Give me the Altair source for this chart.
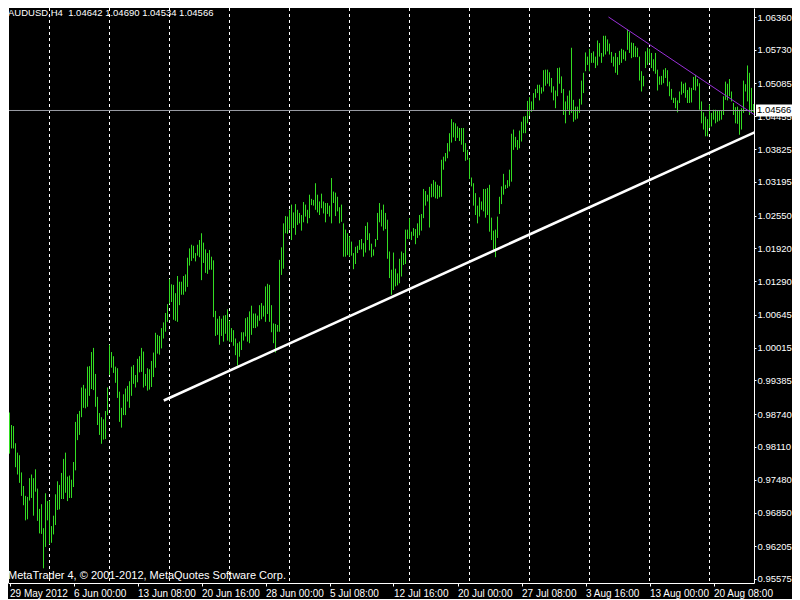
import altair as alt
import pandas as pd

# ---------------- data ----------------
SYMBOL = "AUDUSD,H4"
LAST_OHLC = [1.04642, 1.04690, 1.04534, 1.04566]
COPYRIGHT = "MetaTrader 4, \u00a9 2001-2012, MetaQuotes Software Corp."

HIGH_1 = [0.9877, 0.9853, 0.9851, 0.9818, 0.9800, 0.9795, 0.9762, 0.9736, 0.9717, 0.9715,
          0.9751, 0.9758, 0.9751, 0.9768, 0.9731, 0.9692, 0.9701, 0.9655, 0.9722, 0.9707,
          0.9708, 0.9659, 0.9679, 0.9720, 0.9745, 0.9738, 0.9761, 0.9788, 0.9800, 0.9754,
          0.9756, 0.9748, 0.9782, 0.9859, 0.9874, 0.9880, 0.9925, 0.9930, 0.9923, 0.9965,
          0.9966, 0.9993, 1.0001, 0.9951, 0.9907, 0.9876, 0.9868, 0.9864, 0.9880, 0.9925,
          1.0007, 0.9993, 0.9985, 0.9965, 0.9962, 0.9917, 0.9886, 0.9912, 0.9923, 0.9928,
          0.9937, 0.9965, 0.9968, 0.9949, 0.9980, 0.9985, 1.0001, 0.9994, 0.9951, 0.9962,
          0.9960, 0.9976, 0.9992, 1.0030, 1.0026, 1.0024, 1.0039, 1.0050, 1.0068, 1.0085,
          1.0133, 1.0123, 1.0122, 1.0106, 1.0139, 1.0128, 1.0128, 1.0139, 1.0142, 1.0174,
          1.0192, 1.0199, 1.0197, 1.0183, 1.0199, 1.0208]
LOW_1 = [0.9798, 0.9808, 0.9808, 0.9772, 0.9758, 0.9742, 0.9717, 0.9699, 0.9670, 0.9672,
         0.9708, 0.9713, 0.9679, 0.9725, 0.9669, 0.9645, 0.9644, 0.9578, 0.9619, 0.9670,
         0.9624, 0.9627, 0.9643, 0.9661, 0.9690, 0.9691, 0.9711, 0.9711, 0.9723, 0.9707,
         0.9713, 0.9713, 0.9734, 0.9766, 0.9824, 0.9834, 0.9868, 0.9886, 0.9885, 0.9888,
         0.9909, 0.9922, 0.9920, 0.9888, 0.9853, 0.9834, 0.9817, 0.9825, 0.9826, 0.9872,
         0.9949, 0.9963, 0.9953, 0.9934, 0.9905, 0.9859, 0.9848, 0.9872, 0.9872, 0.9898,
         0.9886, 0.9909, 0.9932, 0.9925, 0.9935, 0.9954, 0.9955, 0.9925, 0.9928, 0.9919,
         0.9921, 0.9926, 0.9945, 0.9963, 0.9990, 0.9988, 1.0000, 1.0019, 1.0032, 1.0051,
         1.0086, 1.0089, 1.0055, 1.0053, 1.0051, 1.0083, 1.0103, 1.0103, 1.0109, 1.0118,
         1.0159, 1.0168, 1.0173, 1.0167, 1.0178, 1.0175]

HIGH_2 = [1.0221, 1.0203, 1.0190, 1.0183, 1.0189, 1.0176, 1.0169, 1.0072, 1.0057, 1.0062,
          1.0057, 1.0063, 1.0064, 1.0075, 1.0053, 1.0039, 1.0035, 1.0019, 1.0010, 1.0013,
          1.0031, 1.0031, 1.0058, 1.0060, 1.0071, 1.0082, 1.0067, 1.0067, 1.0063, 1.0083,
          1.0087, 1.0082, 1.0119, 1.0124, 1.0122, 1.0083, 1.0048, 1.0047, 1.0045, 1.0170,
          1.0194, 1.0240, 1.0254, 1.0253, 1.0266, 1.0276, 1.0261, 1.0277, 1.0266, 1.0260,
          1.0256, 1.0281, 1.0276, 1.0266, 1.0295, 1.0287, 1.0285, 1.0317, 1.0295, 1.0282,
          1.0297, 1.0282, 1.0279, 1.0279, 1.0274, 1.0327, 1.0301, 1.0299, 1.0291, 1.0271,
          1.0276, 1.0240, 1.0228, 1.0221, 1.0215, 1.0205, 1.0183, 1.0195, 1.0197, 1.0208,
          1.0210, 1.0202, 1.0235, 1.0242, 1.0221, 1.0201, 1.0190, 1.0210, 1.0260, 1.0279,
          1.0266, 1.0276, 1.0260, 1.0247, 1.0186]
LOW_2 = [1.0131, 1.0164, 1.0145, 1.0143, 1.0151, 1.0151, 1.0060, 1.0024, 1.0026, 1.0007,
         1.0024, 1.0013, 1.0028, 1.0015, 1.0013, 1.0012, 1.0005, 0.9987, 0.9967, 0.9984,
         0.9997, 1.0015, 1.0023, 1.0013, 1.0010, 1.0026, 1.0039, 1.0039, 1.0042, 1.0053,
         1.0056, 1.0061, 1.0051, 1.0066, 1.0051, 1.0031, 1.0010, 0.9992, 1.0032, 1.0032,
         1.0141, 1.0153, 1.0221, 1.0220, 1.0228, 1.0208, 1.0231, 1.0218, 1.0237, 1.0240,
         1.0226, 1.0242, 1.0253, 1.0240, 1.0250, 1.0275, 1.0274, 1.0266, 1.0261, 1.0256,
         1.0269, 1.0259, 1.0242, 1.0258, 1.0253, 1.0240, 1.0279, 1.0254, 1.0263, 1.0240,
         1.0243, 1.0176, 1.0176, 1.0179, 1.0176, 1.0178, 1.0152, 1.0162, 1.0183, 1.0189,
         1.0190, 1.0176, 1.0184, 1.0208, 1.0188, 1.0175, 1.0178, 1.0195, 1.0208, 1.0242,
         1.0234, 1.0226, 1.0229, 1.0172, 1.0135]

HIGH_3 = [1.0151, 1.0184, 1.0153, 1.0144, 1.0172, 1.0186, 1.0183, 1.0228, 1.0228, 1.0250,
          1.0224, 1.0231, 1.0229, 1.0240, 1.0256, 1.0258, 1.0306, 1.0302, 1.0295, 1.0310,
          1.0316, 1.0323, 1.0320, 1.0314, 1.0312, 1.0362, 1.0368, 1.0375, 1.0394, 1.0413,
          1.0440, 1.0434, 1.0432, 1.0426, 1.0423, 1.0423, 1.0423, 1.0394, 1.0381, 1.0365,
          1.0328, 1.0317, 1.0298, 1.0274, 1.0290, 1.0282, 1.0306, 1.0306, 1.0308, 1.0314,
          1.0251, 1.0226, 1.0228, 1.0253, 1.0291, 1.0311, 1.0335, 1.0314, 1.0323, 1.0343,
          1.0412, 1.0420, 1.0406, 1.0400, 1.0418, 1.0435, 1.0445, 1.0446, 1.0475, 1.0482,
          1.0474, 1.0490, 1.0498, 1.0506, 1.0506, 1.0501, 1.0534, 1.0535, 1.0535, 1.0530,
          1.0519, 1.0503, 1.0495, 1.0538, 1.0539, 1.0522, 1.0498, 1.0474, 1.0485, 1.0495,
          1.0577, 1.0477, 1.0464, 1.0464, 1.0479]
LOW_3 = [1.0103, 1.0112, 1.0119, 1.0121, 1.0125, 1.0138, 1.0160, 1.0162, 1.0210, 1.0210,
         1.0208, 1.0216, 1.0200, 1.0212, 1.0217, 1.0226, 1.0250, 1.0274, 1.0282, 1.0232,
         1.0290, 1.0291, 1.0288, 1.0287, 1.0290, 1.0291, 1.0343, 1.0359, 1.0365, 1.0378,
         1.0395, 1.0405, 1.0398, 1.0404, 1.0398, 1.0391, 1.0377, 1.0360, 1.0362, 1.0325,
         1.0311, 1.0274, 1.0256, 1.0240, 1.0253, 1.0266, 1.0263, 1.0251, 1.0256, 1.0224,
         1.0208, 1.0189, 1.0175, 1.0212, 1.0258, 1.0277, 1.0295, 1.0306, 1.0308, 1.0311,
         1.0320, 1.0381, 1.0386, 1.0381, 1.0384, 1.0397, 1.0413, 1.0413, 1.0432, 1.0446,
         1.0454, 1.0458, 1.0481, 1.0490, 1.0476, 1.0489, 1.0493, 1.0504, 1.0508, 1.0503,
         1.0491, 1.0476, 1.0461, 1.0484, 1.0508, 1.0490, 1.0448, 1.0432, 1.0458, 1.0448,
         1.0452, 1.0435, 1.0439, 1.0441, 1.0452]

HIGH_4 = [1.0514, 1.0529, 1.0568, 1.0560, 1.0575, 1.0567, 1.0570, 1.0560, 1.0591, 1.0586,
          1.0567, 1.0600, 1.0600, 1.0593, 1.0585, 1.0569, 1.0560, 1.0567, 1.0559, 1.0571,
          1.0575, 1.0573, 1.0570, 1.0612, 1.0607, 1.0587, 1.0586, 1.0580, 1.0577, 1.0560,
          1.0532, 1.0523, 1.0570, 1.0577, 1.0575, 1.0567, 1.0555, 1.0567, 1.0535, 1.0522,
          1.0523, 1.0535, 1.0538, 1.0534, 1.0512, 1.0498, 1.0481, 1.0481, 1.0476, 1.0493,
          1.0512, 1.0508, 1.0510, 1.0496, 1.0501, 1.0500, 1.0521, 1.0525, 1.0517, 1.0509,
          1.0474, 1.0453, 1.0445, 1.0440, 1.0468, 1.0452, 1.0458, 1.0458, 1.0457, 1.0457,
          1.0457, 1.0484, 1.0512, 1.0508, 1.0517, 1.0493, 1.0471, 1.0463, 1.0464, 1.0458,
          1.0461, 1.0514, 1.0507, 1.0543, 1.0529, 1.0500, 1.0469]
LOW_4 = [1.0468, 1.0490, 1.0532, 1.0544, 1.0532, 1.0548, 1.0548, 1.0538, 1.0543, 1.0560,
         1.0548, 1.0560, 1.0564, 1.0570, 1.0564, 1.0548, 1.0541, 1.0529, 1.0525, 1.0544,
         1.0548, 1.0555, 1.0552, 1.0573, 1.0567, 1.0557, 1.0559, 1.0559, 1.0559, 1.0514,
         1.0493, 1.0503, 1.0538, 1.0544, 1.0548, 1.0538, 1.0532, 1.0527, 1.0495, 1.0506,
         1.0506, 1.0509, 1.0519, 1.0503, 1.0484, 1.0477, 1.0471, 1.0461, 1.0453, 1.0471,
         1.0487, 1.0490, 1.0481, 1.0471, 1.0471, 1.0472, 1.0496, 1.0495, 1.0503, 1.0458,
         1.0432, 1.0420, 1.0407, 1.0407, 1.0423, 1.0426, 1.0439, 1.0432, 1.0435, 1.0437,
         1.0439, 1.0448, 1.0477, 1.0476, 1.0484, 1.0474, 1.0448, 1.0432, 1.0431, 1.0410,
         1.0420, 1.0452, 1.0493, 1.0474, 1.0448, 1.0452, 1.0453]

TIME_TICK_BARS = [0, 32, 64, 96, 128, 160, 192, 224, 256, 288, 320, 352]
TIME_LABELS = ["29 May 2012", "6 Jun 00:00", "13 Jun 08:00", "20 Jun 16:00",
               "28 Jun 00:00", "5 Jul 08:00", "12 Jul 16:00", "20 Jul 00:00",
               "27 Jul 08:00", "3 Aug 16:00", "13 Aug 00:00", "20 Aug 08:00"]
GRID_BARS = [20, 50, 80, 110, 140, 170, 200, 230, 260, 290, 320, 350]
PRICE_TICKS = [1.06360, 1.05730, 1.05085, 1.04455, 1.03825, 1.03195, 1.02550,
               1.01920, 1.01290, 1.00645, 1.00015, 0.99385, 0.98740, 0.98110,
               0.97480, 0.96850, 0.96205, 0.95575]

SUPPORT_BARS = [77.15, 378.5]
SUPPORT_PRICES = [0.9900, 1.0425]
RESIST_BARS = [299.5, 373.0]
RESIST_PRICES = [1.0636, 1.0447]
BID = [1.04566]

# ---------------- chart ----------------
# total width (W + right padding) is kept at 784 px so the page never shrinks the svg
W, H = 746, 575
PAD_R = 38
FONT = "Liberation Sans"
BAR_COLOR = "#33dd22"

highs = HIGH_1 + HIGH_2 + HIGH_3 + HIGH_4
lows = LOW_1 + LOW_2 + LOW_3 + LOW_4
n = min(len(highs), len(lows))
bars_df = pd.DataFrame({"bar": list(range(n)), "high": highs[:n], "low": lows[:n]})

xs = alt.Scale(domain=[-0.75, 372.25], nice=False, zero=False)
ys = alt.Scale(domain=[0.95498, 1.06533], nice=False, zero=False)

label_js = "[" + ",".join("'" + s + "'" for s in TIME_LABELS) + "]"
x_axis = alt.Axis(values=TIME_TICK_BARS, labelExpr=label_js + "[round(datum.value/32)]",
                  orient="bottom", title=None, grid=False, domainColor="white",
                  tickColor="white", labelColor="white", labelFont=FONT, labelFontSize=10,
                  labelAlign="left", labelBaseline="top", labelPadding=2, tickSize=3,
                  labelOverlap=False, labelFlush=False)
y_axis = alt.Axis(values=PRICE_TICKS, format=".5f", orient="right", title=None, grid=False,
                  domainColor="white", tickColor="white", labelColor="white",
                  labelFont=FONT, labelFontSize=9.5, tickSize=2, labelPadding=1,
                  labelOverlap=False, labelFlush=False)


def X(f):
    return alt.X(f"{f}:Q", scale=xs, axis=x_axis)


def Y(f):
    return alt.Y(f"{f}:Q", scale=ys, axis=y_axis)


grid = alt.Chart(pd.DataFrame({"bar": GRID_BARS})).mark_rule(
    color="white", strokeDash=[3, 3], strokeWidth=1).encode(x=X("bar"))

bars = alt.Chart(bars_df).mark_rule(color=BAR_COLOR, strokeWidth=1).encode(
    x=X("bar"), y=Y("high"), y2=alt.Y2("low:Q"))

bid_df = pd.DataFrame({"price": BID, "label": [f"{v:.5f}" for v in BID]})
bid_line = alt.Chart(bid_df).mark_rule(color="#9a9ca4", strokeWidth=1).encode(y=Y("price"))

support = alt.Chart(pd.DataFrame({"bar": SUPPORT_BARS, "price": SUPPORT_PRICES})).mark_line(
    color="white", strokeWidth=2.6, clip=True).encode(x=X("bar"), y=Y("price"))
resist = alt.Chart(pd.DataFrame({"bar": RESIST_BARS, "price": RESIST_PRICES})).mark_line(
    color="#9b30d9", strokeWidth=1, clip=True).encode(x=X("bar"), y=Y("price"))

box = alt.Chart(bid_df).mark_tick(orient="horizontal", color="white", size=PAD_R - 2,
                                  thickness=12, opacity=1).encode(
    x=alt.value(W + 2 + (PAD_R - 2) / 2), y=Y("price"))
box_text = alt.Chart(bid_df).mark_text(align="left", baseline="middle", color="black",
                                       font=FONT, fontSize=9.5).encode(
    x=alt.value(W + 3), y=Y("price"), text="label:N")

header_df = pd.DataFrame({"t": [SYMBOL + "\u00a0 " + " ".join(f"{v:.5f}" for v in LAST_OHLC)]})
header = alt.Chart(header_df).mark_text(align="left", baseline="top", color="white",
                                        font=FONT, fontSize=9.5).encode(
    x=alt.value(0), y=alt.value(0), text="t:N")
footer = alt.Chart(pd.DataFrame({"t": [COPYRIGHT]})).mark_text(
    align="left", baseline="alphabetic", color="white", font=FONT, fontSize=11).encode(
    x=alt.value(0), y=alt.value(H - 4), text="t:N")

left_border = alt.Chart(pd.DataFrame({"k": [0]})).mark_rule(color="white").encode(
    x=alt.value(0.5), y=alt.value(0), y2=alt.value(H))

chart = alt.layer(grid, bars, bid_line, support, resist, box, box_text, header, footer,
                  left_border).properties(
    width=W, height=H, background="#000000",
    padding={"left": 0, "top": 0, "right": PAD_R, "bottom": 16},
    autosize=alt.AutoSizeParams(type="none"),
).configure_view(stroke=None)

chart.save("out.html", embed_options={"renderer": "svg", "actions": False})
